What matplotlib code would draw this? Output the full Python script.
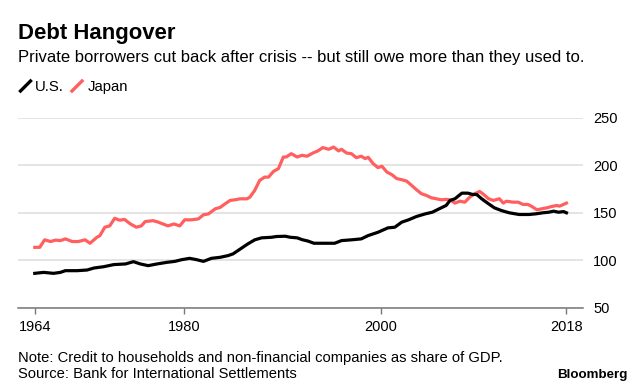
#Debt Hangover: private credit as share of GDP, U.S. vs Japan
import numpy as np
import matplotlib
matplotlib.use('Agg')
import matplotlib.pyplot as plt
from matplotlib.lines import Line2D

plt.rcParams['font.family'] = ['Liberation Sans', 'DejaVu Sans']

#Input data
us_year = [1964.9, 1965.8, 1966.8, 1967.5, 1968.0, 1969.2, 1970.2, 1970.9, 1971.9, 1972.9,
           1974.1, 1974.9, 1975.6, 1976.4, 1977.3, 1978.3, 1979.1, 1979.8, 1980.6, 1981.3,
           1982.0, 1982.8, 1983.7, 1984.5, 1985.0, 1985.9, 1986.5, 1987.2, 1987.9, 1988.9,
           1989.4, 1990.3, 1990.8, 1991.5, 1992.0, 1992.6, 1993.2, 1993.9, 1995.3, 1996.0,
           1997.0, 1998.0, 1998.7, 1999.7, 2000.7, 2001.4, 2002.1, 2002.8, 2003.6, 2004.5,
           2005.2, 2005.9, 2006.6, 2007.0, 2007.5, 2008.2, 2008.8, 2009.3, 2009.7, 2010.2,
           2010.9, 2011.5, 2012.2, 2013.0, 2014.0, 2015.0, 2015.7, 2016.4, 2017.0, 2017.5,
           2018.0, 2018.5, 2018.8]
us_val = [86, 87, 86, 87, 88.8, 88.8, 89.5, 91.6, 93, 95.2,
          95.9, 98.3, 95.9, 94.1, 95.9, 97.6, 98.6, 100.4, 101.8, 100.4,
          98.6, 101.8, 102.9, 104.7, 106.5, 112.8, 117, 121.3, 123.4, 124,
          124.8, 125.1, 124, 123.4, 121.5, 120, 117.7, 117.7, 117.7, 120.5,
          121.3, 122.3, 125.8, 129.3, 133.9, 134.6, 139.9, 142.4, 145.9, 148.7,
          150.4, 154, 157.5, 162.8, 164.6, 170.5, 170.5, 169.1, 169.1, 164.6,
          159.3, 155, 152.2, 149.8, 148, 148, 148.7, 149.8, 150.4, 151.5,
          150.4, 151.1, 149.8]

jp_year = [1964.9, 1965.4, 1965.9, 1966.5, 1967.0, 1967.5, 1968.0, 1968.7, 1969.3, 1970.0,
           1970.5, 1971.2, 1971.5, 1972.0, 1972.5, 1973.0, 1973.5, 1974.0, 1974.6, 1975.2,
           1975.7, 1976.1, 1976.9, 1977.4, 1977.9, 1978.4, 1979.0, 1979.6, 1980.1, 1980.8,
           1981.5, 1982.0, 1982.5, 1983.2, 1983.7, 1984.2, 1984.7, 1985.2, 1985.7, 1986.4,
           1986.7, 1987.2, 1987.7, 1988.2, 1988.6, 1989.1, 1989.6, 1990.1, 1990.4, 1990.9,
           1991.5, 1992.0, 1992.5, 1993.1, 1993.6, 1994.1, 1994.7, 1995.2, 1995.7, 1996.0,
           1996.5, 1997.0, 1997.5, 1998.0, 1998.4, 1998.7, 1999.2, 1999.7, 2000.1, 2000.6,
           2001.1, 2001.6, 2002.1, 2002.6, 2003.1, 2003.6, 2004.1, 2004.6, 2005.1, 2005.6,
           2006.1, 2006.6, 2007.0, 2007.5, 2008.0, 2008.5, 2009.0, 2009.5, 2010.0, 2010.4,
           2010.9, 2011.4, 2012.0, 2012.4, 2012.7, 2013.4, 2013.9, 2014.4, 2014.9, 2015.3,
           2015.8, 2016.3, 2016.8, 2017.3, 2017.8, 2018.1, 2018.5, 2018.8]
jp_val = [113.4, 113.4, 121.3, 119.5, 121, 120.5, 122.3, 119.5, 119.5, 121.3,
          117.7, 124, 125.7, 134.6, 136, 144, 142, 142.8, 138, 134.6,
          136, 140.6, 141.5, 140, 138, 136, 138, 136, 142.4, 142.4,
          143.4, 147.7, 148.6, 154, 155.5, 159.3, 162.8, 163.5, 164.5, 164.5,
          166.2, 173.4, 183.9, 187.4, 187.4, 193.4, 196.3, 208.6, 208.6, 212.1,
          208.6, 210.4, 209.4, 212.8, 215, 218.5, 216.7, 219.1, 215, 216.7,
          212.8, 212.1, 207.9, 209.4, 206.9, 208.3, 201.6, 197.4, 198.8, 192.7,
          190, 185.8, 184.7, 183.2, 178.7, 174.1, 169.9, 168.1, 165.6, 164.6,
          163.5, 163.9, 163.5, 160, 162, 161, 166.3, 169.9, 172.3, 169.2,
          164.6, 162.8, 164.6, 160, 162, 161, 161, 158.6, 158.6, 156.4,
          153, 154, 155, 156.4, 157.5, 156.8, 158.6, 160]

yticks = [50, 100, 150, 200, 250]
xticks = [us_year[0], 1980, 2000, us_year[-1]]
xlabels = ['1964', '1980', '2000', '2018']

us_color = '#000000'
jp_color = '#ff5f5f'

fig = plt.figure(figsize=(6.4, 3.89), dpi=100)
ax = fig.add_axes([18.3/640, 1-307.5/389, (583.3-18.3)/640, (307.5-117.7)/389])

ax.plot(jp_year, jp_val, color=jp_color, lw=2.3, solid_joinstyle='round', zorder=3)
ax.plot(us_year, us_val, color=us_color, lw=2.3, solid_joinstyle='round', zorder=4)

ax.set_xlim(1963.23, 2020.51)
ax.set_ylim(50, 250)
ax.set_yticks(yticks)
ax.yaxis.tick_right()
ax.tick_params(axis='y', length=0, pad=7, labelsize=10.5, colors='#000000')
ax.set_xticks(xticks)
ax.set_xticklabels(xlabels)
ax.tick_params(axis='x', length=4, width=1, color='#777777', pad=5, labelsize=10.5)
ax.grid(axis='y', color='#dddddd', lw=1.1)
ax.set_axisbelow(True)
for s in ['top', 'left', 'right']:
    ax.spines[s].set_visible(False)
ax.spines['bottom'].set_color('#777777')
ax.spines['bottom'].set_linewidth(1.1)

#titles
fig.text(18/640, 1-39/389, 'Debt Hangover', fontsize=15.9, fontweight='bold', va='baseline')
fig.text(18/640, 1-61.7/389, 'Private borrowers cut back after crisis -- but still owe more than they used to.',
         fontsize=11.95, va='baseline')

#legend
def leg(x0, color, label, xt):
    fig.add_artist(Line2D([x0/640, (x0+10)/640], [1-91/389, 1-81/389], color=color, lw=2.4,
                          transform=fig.transFigure))
    fig.text(xt/640, 1-91/389, label, fontsize=10.7, va='baseline')

leg(20.5, us_color, 'U.S.', 35)
leg(72, jp_color, 'Japan', 87.7)

#footer
fig.text(18/640, 1-361.7/389, 'Note: Credit to households and non-financial companies as share of GDP.',
         fontsize=10.6, va='baseline')
fig.text(18/640, 1-377.7/389, 'Source: Bank for International Settlements', fontsize=10.6, va='baseline')
fig.text(627/640, 1-378.3/389, 'Bloomberg', fontsize=9.6, fontweight='bold', ha='right', va='baseline')

plt.savefig('out.png', dpi=100)
